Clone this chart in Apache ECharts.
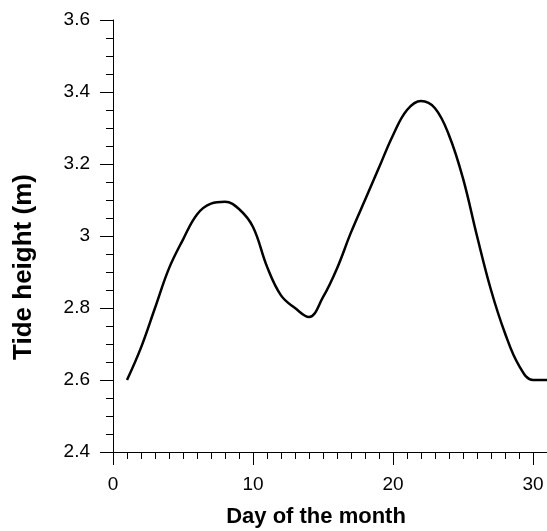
<!DOCTYPE html>
<html>
<head>
<meta charset="utf-8">
<script src="https://cdn.jsdelivr.net/npm/echarts@6/dist/echarts.min.js"></script>
<style>
  html, body { margin: 0; padding: 0; background: #fff; }
  #chart { width: 547px; height: 531px; }
</style>
</head>
<body>
<div id="chart"></div>
<script>
// day of the month and tide height (m)
const days = [1, 2, 3, 4, 5, 6, 7, 8, 9, 10, 11, 12, 13, 14, 15, 16,
  17, 18, 19, 20, 21, 22, 23, 24, 25, 26, 27, 28, 29, 30, 31]
const tide = [2.60, 2.69, 2.80, 2.91, 2.99, 3.06, 3.09, 3.095, 3.075, 3.025, 2.915,
  2.835, 2.80, 2.775, 2.83, 2.91, 3.01, 3.10, 3.19, 3.28, 3.35, 3.375, 3.355,
  3.28, 3.16, 3.00, 2.85, 2.73, 2.64, 2.60, 2.60]
const xTicks = [0, 10, 20, 30]
const yTicks = [2.4, 2.6, 2.8, 3, 3.2, 3.4, 3.6]

const font = 'Liberation Sans, Arial, sans-serif'
const chart = echarts.init(document.getElementById('chart'))

chart.setOption({
  animation: false,
  grid: { left: 113, right: 0, top: 20, bottom: 79, containLabel: false, outerBoundsMode: 'none' },
  xAxis: {
    type: 'value',
    min: 0,
    max: 31,
    interval: 10,
    name: 'Day of the month',
    nameLocation: 'middle',
    nameGap: 54,
    nameTextStyle: { fontFamily: font, fontSize: 22, fontWeight: 'bold', color: '#000', padding: [0, 28, 0, 0] },
    axisLine: { lineStyle: { color: '#000', width: 1 } },
    axisTick: { inside: false, length: 13, lineStyle: { color: '#000' } },
    minorTick: { show: true, splitNumber: 10, length: 7, lineStyle: { color: '#000' } },
    splitLine: { show: false },
    axisLabel: {
      margin: 23,
      fontFamily: font,
      fontSize: 19,
      color: '#000',
      formatter: v => (xTicks.includes(v) ? String(v) : '')
    }
  },
  yAxis: {
    type: 'value',
    min: 2.4,
    max: 3.6,
    interval: 0.2,
    name: 'Tide height (m)',
    nameLocation: 'middle',
    nameGap: 76,
    nameTextStyle: { fontFamily: font, fontSize: 26, fontWeight: 'bold', color: '#000', padding: [0, 62, 0, 0] },
    axisLine: { show: true, lineStyle: { color: '#000', width: 1 } },
    axisTick: { show: true, inside: false, length: 13, lineStyle: { color: '#000' } },
    minorTick: { show: true, splitNumber: 4, length: 7, lineStyle: { color: '#000' } },
    splitLine: { show: false },
    axisLabel: {
      margin: 23,
      fontFamily: font,
      fontSize: 19,
      color: '#000',
      formatter: v => {
        const r = Math.round(v * 10) / 10
        return yTicks.includes(r) ? String(r) : ''
      }
    }
  },
  series: [{
    type: 'line',
    data: days.map((d, i) => [d, tide[i]]),
    smooth: 0.4,
    symbol: 'none',
    lineStyle: { color: '#000', width: 2.5 }
  }]
})
</script>
</body>
</html>
